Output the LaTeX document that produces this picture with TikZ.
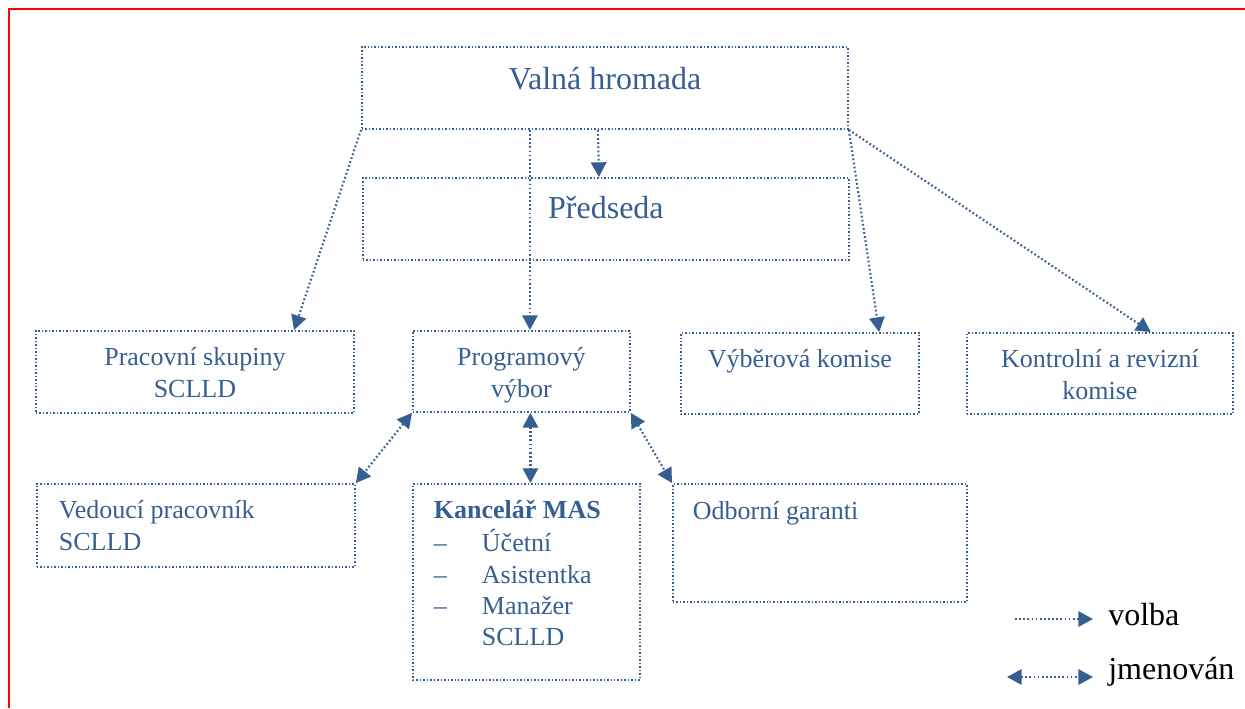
\documentclass[tikz,border=0pt]{standalone}
\usepackage{fontspec}
\setmainfont{Liberation Serif}
\usetikzlibrary{arrows.meta,calc}

\definecolor{masblue}{HTML}{365F91}
\newdimen\pxu \pxu=0.75pt
% box text: width, height, top padding, content
\newcommand{\cell}[4]{\parbox[t][#2\pxu][t]{#1\pxu}{\vspace*{#3\pxu}#4}}

\tikzset{
  unit/.style={draw=masblue, line width=1.4pt, dash pattern=on 1.1pt off 1.5pt,
    inner sep=0pt, anchor=north west, text=masblue,
    font=\fontsize{19.5}{23.5}\selectfont},
  big/.style={font=\fontsize{24}{27.6}\selectfont},
  vote/.style={draw=masblue, line width=1.6pt, dash pattern=on 1.3pt off 1.8pt,
    -{Triangle[length=11pt,width=11.5pt]}},
  appoint/.style={vote, {Triangle[length=11pt,width=11.5pt]}-{Triangle[length=11pt,width=11.5pt]}},
  legend/.style={inner sep=0pt, anchor=base west, font=\fontsize{24}{27.6}\selectfont}
}

\begin{document}
\begin{tikzpicture}[x=0.75pt, y=-0.75pt]
\useasboundingbox (0,0) rectangle (1245,708);
\draw[red, line width=1.5pt] (8.5,708) -- (8.5,8.5) -- (1245,8.5);

% boxes
\node[unit,big] (vh) at (361,46) {\cell{486}{82}{17}{\centering\strut Valná hromada}};
\node[unit,big] (pr) at (362,177) {\cell{486}{82}{15}{\centering\strut Předseda}};
\node[unit] (ps) at (35,330) {\cell{318}{82}{13}{\centering\strut Pracovní skupiny\\SCLLD}};
\node[unit] (pv) at (412,330) {\cell{217}{81}{13}{\centering\strut Programový\\výbor}};
\node[unit] (vk) at (680,332) {\cell{238}{81}{13}{\centering\strut Výběrová komise}};
\node[unit] (kr) at (966,332) {\cell{266}{81}{13}{\centering\strut Kontrolní a revizní\\komise}};
\node[unit] (vp) at (36,483) {\cell{318}{83}{13}{\raggedright\leftskip=22\pxu\strut Vedoucí pracovník\\SCLLD}};
\node[unit] (km) at (412,483) {\cell{227}{196}{13}{\raggedright\leftskip=21\pxu\strut\textbf{Kancelář MAS}\\
  \makebox[48\pxu][l]{\textendash}Účetní\\
  \makebox[48\pxu][l]{\textendash}Asistentka\\
  \makebox[48\pxu][l]{\textendash}Manažer\\
  \hspace*{48\pxu}SCLLD}};
\node[unit] (og) at (672,483) {\cell{294}{118}{14}{\raggedright\leftskip=20\pxu\strut Odborní garanti}};

% volba
\draw[vote] ([xshift=-7\pxu]vh.south) -- ([xshift=-7\pxu]pr.north);
\draw[vote] ([xshift=-75\pxu]vh.south) -- ([xshift=-75\pxu]vh.south |- pv.north);
\draw[vote] (vh.south west) -- ($(ps.north west)!.81!(ps.north east)$);
\draw[vote] (vh.south east) -- ($(vk.north west)!.83!(vk.north east)$);
\draw[vote] (vh.south east) -- ($(kr.north west)!.69!(kr.north east)$);

% jmenovan
\draw[appoint] (pv.south west) -- (vp.north east);
\draw[appoint] ([xshift=9\pxu]pv.south) -- ([xshift=9\pxu]pv.south |- km.north);
\draw[appoint] (pv.south east) -- (og.north west);

% legend
\coordinate (v1) at (1015,619);
\coordinate (v2) at (1093,619);
\coordinate (j1) at (1007,677);
\coordinate (j2) at (1093,677);
\node[legend] (lv) at (1108,625) {volba};
\node[legend] (lj) at (1108,679) {jmenován};
\draw[vote] (v1) -- (v2);
\draw[appoint] (j1) -- (j2);
\end{tikzpicture}
\end{document}
